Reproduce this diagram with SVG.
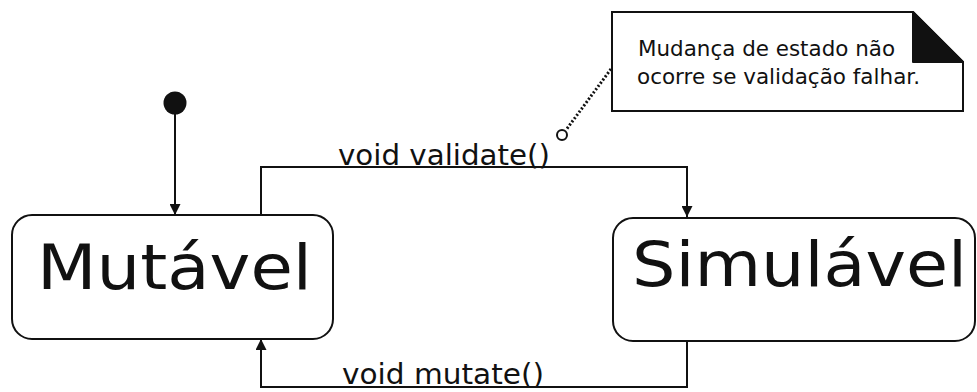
<svg xmlns="http://www.w3.org/2000/svg" width="977" height="392" viewBox="0 0 977 392">
<defs>
<style>
.box{fill:#fff;stroke:#111;stroke-width:2}
.ln{fill:none;stroke:#111;stroke-width:2}
.big{font-family:"DejaVu Sans",sans-serif;font-size:63px;fill:#111}
.lbl{font-family:"DejaVu Sans",sans-serif;font-size:28px;fill:#111}
.nt{font-family:"DejaVu Sans",sans-serif;font-size:21px;fill:#111}
</style>
<marker id="arr" viewBox="0 0 10 10" refX="10" refY="5" markerWidth="11" markerHeight="11" markerUnits="userSpaceOnUse" orient="auto">
<path d="M0,0 L10,5 L0,10 Z" fill="#111"/>
</marker>
</defs>
<rect width="977" height="392" fill="#fff"/>
<g id="connectors">
<line class="ln" x1="175" y1="103" x2="175" y2="215" marker-end="url(#arr)"/>
<polyline class="ln" points="261,215 261,167 687,167 687,217" marker-end="url(#arr)"/>
<polyline class="ln" points="687,341 687,387 261,387 261,339" marker-end="url(#arr)"/>
<text class="lbl" x="338" y="165" textLength="212" lengthAdjust="spacingAndGlyphs">void validate()</text>
<text class="lbl" x="342" y="384" textLength="202" lengthAdjust="spacingAndGlyphs">void mutate()</text>
<line x1="611" y1="69" x2="566" y2="130" stroke="#111" stroke-width="3" stroke-dasharray="2,2"/>
<circle cx="562" cy="135" r="5" fill="#fff" stroke="#111" stroke-width="2"/>
</g>
<g id="initial">
<circle cx="175" cy="103" r="11.5" fill="#111"/>
</g>
<g id="mutavel">
<rect class="box" x="12" y="215" width="321" height="124" rx="20" ry="20"/>
<text class="big" x="37" y="289" textLength="275" lengthAdjust="spacingAndGlyphs">Mutável</text>
</g>
<g id="simulavel">
<rect class="box" x="613" y="218" width="362" height="123" rx="20" ry="20"/>
<text class="big" x="632" y="286" textLength="335" lengthAdjust="spacingAndGlyphs">Simulável</text>
</g>
<g id="note">
<path class="box" d="M612,12 H913 L963,62 V111 H612 Z"/>
<path d="M913,12 L963,62 H913 Z" fill="#111" stroke="#111" stroke-width="2" stroke-linejoin="round"/>
<text class="nt" x="638" y="56" textLength="257" lengthAdjust="spacingAndGlyphs">Mudança de estado não</text>
<text class="nt" x="637" y="84" textLength="283" lengthAdjust="spacingAndGlyphs">ocorre se validação falhar.</text>
</g>
</svg>
